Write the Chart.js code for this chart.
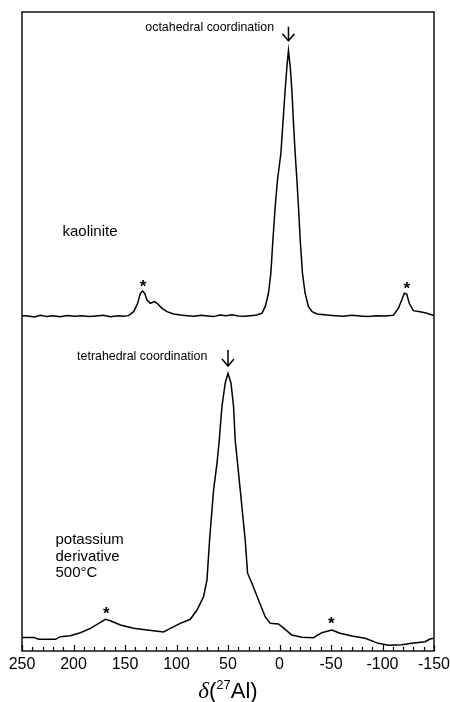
<!DOCTYPE html>
<html><head><meta charset="utf-8">
<script src="https://cdn.jsdelivr.net/npm/chart.js@4/dist/chart.umd.min.js"></script>
<style>html,body{margin:0;padding:0;background:#fff;}canvas{display:block;}</style>
</head><body>
<canvas id="c" width="450" height="702"></canvas>
<script>
// chemical shift (ppm) and intensity (arb. units, baseline = 0)
const kaoliniteShift = [250,244,238,232,226,220,213,206,199,192,185,178,171,164,157,151,146.7,141.6,137.7,135.1,132.9,130.9,128.6,125.4,121.2,118.9,114.0,109.2,102.8,96,89.8,83,76,70,64,58,52,46,40,34,28,22,17.1,13.9,10.7,8.4,6.4,4.2,1.95,-1.35,-3.3,-5.5,-7.2,-8.7,-10.4,-12.0,-13.6,-15.2,-16.9,-18.4,-20.1,-22.3,-24.9,-28.1,-31.7,-36.3,-46.0,-54,-62,-70,-78,-86,-94,-102,-110.5,-115.4,-118.7,-121.2,-123.5,-126.0,-129.9,-136.4,-141.3,-146.1,-150];
const kaoliniteIntensity = [0.05,0.0,-0.15,0.1,-0.1,0.05,-0.12,0.08,-0.05,0.05,-0.1,0.0,0.1,-0.12,0.05,-0.05,0.05,0.67,1.99,3.55,3.91,3.55,2.50,1.99,2.24,1.99,1.20,0.67,0.31,0.15,0.05,-0.05,0.1,0.0,-0.1,0.15,0.05,0.2,0.0,-0.05,0.05,0.15,0.42,1.46,3.55,6.68,11.89,17.10,21.28,25.46,30.16,35.37,39.01,41.52,39.01,35.37,30.16,25.46,21.28,17.10,11.89,6.68,3.55,1.46,0.67,0.31,0.16,0.05,-0.05,0.1,0.0,-0.1,0.05,0.0,0.1,1.20,2.50,3.55,3.44,1.99,0.83,0.67,0.52,0.27,0.05];

const potassiumShift = [250,238.6,233.7,217.5,212.7,203.0,193.3,183.6,175.5,169.0,164.2,154.5,141.6,128.6,112.5,106.0,96.3,86.6,80.1,73.7,70.4,67.9,64.0,60.7,58.5,55.9,52.7,50.0,47.1,44.6,43.0,40.7,38.1,33.3,31.0,26.8,20.4,13.9,9.0,1.0,-5.5,-12.0,-21.7,-33.0,-41.1,-50.8,-58.8,-70.2,-83.1,-96.0,-105.7,-118.7,-128.4,-141.3,-146.1,-150];
const potassiumIntensity = [1.35,1.35,1.05,1.05,1.46,1.61,2.08,2.77,3.55,4.18,3.96,3.29,2.77,2.50,2.19,2.77,3.55,4.18,5.63,7.72,10.33,16.59,24.4,28.59,32.2,37.45,41.16,42.68,41.16,37.45,32.2,28.59,24.4,16.59,11.4,9.81,7.20,4.59,3.55,3.44,2.61,1.72,1.36,1.30,2.08,2.50,1.99,1.56,1.21,0.42,0.11,0.20,0.42,0.67,1.10,1.21];

const xTickValues = [250,200,150,100,50,0,-50,-100,-150];
const sampleLabels = ['kaolinite', ['potassium','derivative','500°C']];
const peakLabels = ['octahedral coordination','tetrahedral coordination'];

// layout (vertical stacking of the two spectra)
const offsets = [52.43, 0.78];
const FONT = '"Liberation Sans", Arial, Helvetica, sans-serif';

function pts(xs, ys, off){ return xs.map((x,i)=>({x:x, y:ys[i]+off})); }

const annot = {
  id:'annot',
  afterDatasetsDraw(chart){
    const ctx = chart.ctx, a = chart.chartArea;
    const xs = chart.scales.x, ys = chart.scales.y;
    const X = v=>xs.getPixelForValue(v), Y = v=>ys.getPixelForValue(v);
    ctx.save();
    ctx.strokeStyle='#000'; ctx.fillStyle='#000'; ctx.lineWidth=1.4;
    // frame
    ctx.strokeRect(a.left, a.top, a.right-a.left, a.bottom-a.top);
    // inward ticks
    ctx.lineWidth=1.2;
    for(let v=-150; v<=250; v+=10){
      const px = Math.round(X(v))+0.5;
      const len = (v%50===0)?6:4;
      ctx.beginPath(); ctx.moveTo(px,a.bottom); ctx.lineTo(px,a.bottom-len); ctx.stroke();
    }
    // sample labels
    ctx.textAlign='left'; ctx.textBaseline='middle';
    ctx.font='15px '+FONT;
    ctx.fillText(sampleLabels[0], X(210.7), Y(65.6));
    sampleLabels[1].forEach((t,i)=>ctx.fillText(t, X(217.5), Y(17.4)+i*16.7));
    // arrows + peak labels
    function arrow(d, vTop, vTip){
      const x = X(d), y0 = Y(vTop), y1 = Y(vTip);
      ctx.lineWidth=1.5;
      ctx.beginPath(); ctx.moveTo(x,y0); ctx.lineTo(x,y1); ctx.stroke();
      ctx.beginPath(); ctx.moveTo(x-6,y1-7); ctx.lineTo(x,y1); ctx.lineTo(x+6,y1-7); ctx.stroke();
    }
    ctx.font='12.4px '+FONT; ctx.textAlign='right';
    arrow(-8.7, 97.7, 95.5);
    ctx.fillText(peakLabels[0], X(5.2), Y(97.5));
    arrow(50, 47.1, 44.6);
    ctx.fillText(peakLabels[1], X(70.1), Y(46.06));
    // spinning sideband asterisks
    ctx.font='bold 17px '+FONT; ctx.textAlign='center'; ctx.textBaseline='alphabetic';
    [[132.5,57.8],[-123.5,57.4],[168.1,6.53],[-50.4,4.96]].forEach(([d,v])=>{
      ctx.fillText('*', X(d), Y(v)+10);
    });
    // axis title δ(27Al)
    const cx = (a.left+a.right)/2, base = 698;
    const parts = [
      {t:'δ', f:'italic 23px "Liberation Serif", "DejaVu Serif", serif', dy:0},
      {t:'(', f:'22px '+FONT, dy:0},
      {t:'27', f:'13px '+FONT, dy:-9},
      {t:'Al)', f:'22px '+FONT, dy:0}
    ];
    let w=0; parts.forEach(p=>{ctx.font=p.f; p.w=ctx.measureText(p.t).width; w+=p.w;});
    let x = cx - w/2; ctx.textAlign='left';
    parts.forEach(p=>{ctx.font=p.f; ctx.fillText(p.t, x, base+p.dy); x+=p.w;});
    ctx.restore();
  }
};

new Chart(document.getElementById('c'), {
  type:'line',
  data:{ datasets:[
    {data:pts(kaoliniteShift,kaoliniteIntensity,offsets[0]), borderColor:'#000', borderWidth:1.5, pointRadius:0, tension:0},
    {data:pts(potassiumShift,potassiumIntensity,offsets[1]), borderColor:'#000', borderWidth:1.5, pointRadius:0, tension:0}
  ]},
  options:{
    responsive:false, animation:false, devicePixelRatio:1,
    layout:{padding:{left:22,right:16,top:12,bottom:0}},
    plugins:{legend:{display:false}, tooltip:{enabled:false}, title:{display:false}},
    scales:{
      x:{type:'linear', reverse:true, min:-150, max:250,
        grid:{display:false, drawTicks:false}, border:{display:false},
        afterBuildTicks(s){ s.ticks = xTickValues.map(v=>({value:v})); },
        ticks:{autoSkip:false, maxRotation:0, padding:4, color:'#000', font:{family:FONT, size:16}},
        afterFit(s){ s.height=51; s.paddingLeft=0; s.paddingRight=0; }
      },
      y:{display:false, min:0, max:100}
    }
  },
  plugins:[annot]
});
</script>
</body></html>
